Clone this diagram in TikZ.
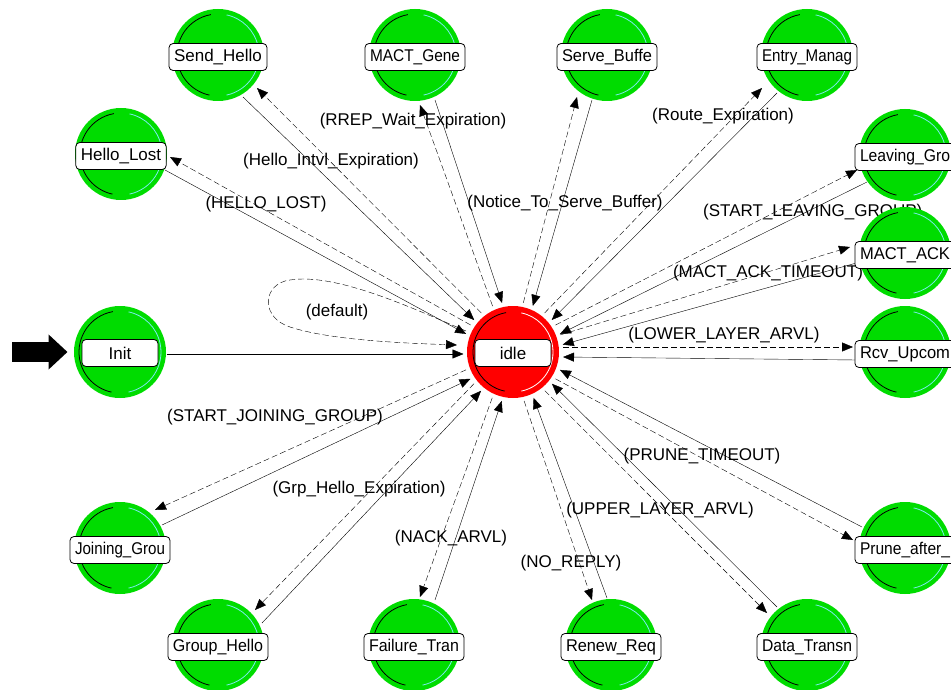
\documentclass[tikz,border=0pt]{standalone}
\usepackage{fontspec}
\usepackage{graphicx}
\setmainfont{Liberation Sans}
\usetikzlibrary{arrows.meta,calc}

\definecolor{stategreen}{RGB}{0,220,0}
\definecolor{statered}{RGB}{255,0,0}
\definecolor{rimcyan}{RGB}{120,235,235}

\newcommand\dgfont{\fontsize{17pt}{19pt}\selectfont}
% squeeze long state names so the name box never grows past its width
\newsavebox\namebuf
\newcommand\fitname[1]{\sbox\namebuf{#1}\ifdim\wd\namebuf>90pt\resizebox{90pt}{\height}{#1}\else\usebox\namebuf\fi}

\pgfdeclarelayer{back}
\pgfsetlayers{back,main}

% a dashed (conditional) transition from idle out to a state and a solid one back
% #1 state, #2/#3 side of the dashed/solid line at idle, #4/#5 their ends at the state
\newcommand\tpair[5]{%
  \draw[cond] ($(idle)!50pt!(#1)!5pt!#2:(#1)$) -- ($(#1)+(#4)$);
  \draw[uncond] ($(#1)+(#5)$) -- ($(idle)!50pt!(#1)!5pt!#3:(#1)$);
}

\begin{document}
\begin{tikzpicture}[x=1pt,y=-1pt,line width=1pt,
  every node/.style={font=\dgfont},
  rims/.style 2 args={path picture={
      \draw[black,line width=0.8pt] ([shift={(100:#1)}]path picture bounding box.center)
        arc[start angle=100,end angle=258,radius=#1];
      \draw[#2,line width=0.8pt] ([shift={(282:#1)}]path picture bounding box.center)
        arc[start angle=282,end angle=438,radius=#1];}},
  stategreen/.style={circle,fill=stategreen,minimum size=92pt,inner sep=0pt,rims={41pt}{rimcyan}},
  statered/.style={circle,fill=statered,minimum size=92pt,inner sep=0pt,rims={40pt}{white}},
  namebox/.style={draw=black,fill=white,rounded corners=4pt,line width=0.8pt,
    minimum width=76pt,minimum height=27pt,inner xsep=5pt,inner ysep=0pt},
  tlabel/.style={inner sep=0pt},
  cond/.style={dash pattern=on 6pt off 3pt,-{Triangle[length=11pt,width=9pt]}},
  uncond/.style={-{Triangle[length=11pt,width=9pt]}},
  feed/.style={line width=20pt,-{Triangle[length=19pt,width=34pt]}}]

\useasboundingbox (0,0) rectangle (951,690);
\clip (0,0) rectangle (951,690);

% states
\node[statered]   (idle) at (513,352) {};
\node[stategreen] (init) at (120,352) {};
\node[stategreen] (hl) at (121,154) {};
\node[stategreen] (sh) at (218,55) {};
\node[stategreen] (mg) at (415,55) {};
\node[stategreen] (sb) at (607,55) {};
\node[stategreen] (em) at (807,55) {};
\node[stategreen] (lg) at (905,155) {};
\node[stategreen] (ma) at (905,253) {};
\node[stategreen] (rc) at (905,352) {};
\node[stategreen] (pr) at (905,548) {};
\node[stategreen] (dt) at (807,645) {};
\node[stategreen] (rr) at (611,645) {};
\node[stategreen] (ft) at (414,645) {};
\node[stategreen] (gh) at (218,645) {};
\node[stategreen] (jg) at (120,548) {};

% state names
\node[namebox] (idle-name) at ($(idle)+(0,1)$) {idle};
\node[namebox] (init-name) at ($(init)+(0,1)$) {Init};
\node[namebox] (hl-name) at ($(hl)+(0,2)$) {\fitname{Hello\_Lost}};
\node[namebox] (sh-name) at ($(sh)+(0,2)$) {\fitname{Send\_Hello}};
\node[namebox] (mg-name) at ($(mg)+(0,2)$) {\fitname{MACT\_Gene}};
\node[namebox] (sb-name) at ($(sb)+(0,2)$) {\fitname{Serve\_Buffe}};
\node[namebox] (em-name) at ($(em)+(0,2)$) {\fitname{Entry\_Manag}};
\node[namebox] (lg-name) at ($(lg)+(0,2)$) {\fitname{Leaving\_Gro}};
\node[namebox] (ma-name) at ($(ma)+(0,2)$) {\fitname{MACT\_ACK}};
\node[namebox] (rc-name) at ($(rc)+(0,2)$) {\fitname{Rcv\_Upcom}};
\node[namebox] (pr-name) at ($(pr)+(0,2)$) {\fitname{Prune\_after\_}};
\node[namebox] (dt-name) at ($(dt)+(0,2)$) {\fitname{Data\_Transn}};
\node[namebox] (rr-name) at ($(rr)+(0,2)$) {\fitname{Renew\_Req}};
\node[namebox] (ft-name) at ($(ft)+(0,2)$) {\fitname{Failure\_Tran}};
\node[namebox] (gh-name) at ($(gh)+(0,2)$) {\fitname{Group\_Hello}};
\node[namebox] (jg-name) at ($(jg)+(0,2)$) {\fitname{Joining\_Grou}};

\begin{pgfonlayer}{back}
  \fill[white] (0,0) rectangle (951,690);

  % initial-state marker and the start transition
  \coordinate (feedstart) at (12,352);
  \draw[feed] (feedstart) -- ($(init.west)+(-6,0)$);
  \draw[uncond] ($(init.east)+(0,2)$) -- ($(idle.west)+(-3,2)$);

  % default self transition of idle
  \draw[cond] ($(idle)+(-47,-21)$) .. controls (410,307) and (330,270) .. (285,281)
     .. controls (262,288) and (262,318) .. (290,327)
     .. controls (330,340) and (400,343) .. ($(idle)+(-56,-7)$);

  % transitions between idle and the other states
  \tpair{hl}{-90}{90}{49,3}{44,16}
  \tpair{sh}{-90}{90}{39,33}{25,42}
  \tpair{mg}{90}{-90}{5,50}{20,45}
  \tpair{sb}{90}{-90}{-30,42}{-15,45}
  \tpair{em}{90}{-90}{-45,33}{-30,38}
  \tpair{lg}{90}{-90}{-48,15}{-38,27}
  \tpair{ma}{90}{-90}{-55,-6}{-45,9}
  \tpair{rc}{90}{-90}{-52,-5}{-48,8}
  \tpair{pr}{-90}{90}{-52,-8}{-43,-21}
  \tpair{dt}{-90}{90}{-40,-32}{-30,-38}
  \tpair{rr}{-90}{90}{-19,-45}{-4,-47}
  \tpair{ft}{-90}{90}{6,-48}{21,-45}
  \tpair{gh}{-90}{90}{37,-35}{44,-22}
  \tpair{jg}{-90}{90}{35,-38}{42,-23}

  % transition conditions
  \node[tlabel] (c-default) at (337,312) {(default)};
  \node[tlabel] (c-hl) at (266,204) {(HELLO\_LOST)};
  \node[tlabel] (c-sh) at (331,161) {(Hello\_Intvl\_Expiration)};
  \node[tlabel] (c-mg) at (413,121) {(RREP\_Wait\_Expiration)};
  \node[tlabel] (c-sb) at (565,203) {(Notice\_To\_Serve\_Buffer)};
  \node[tlabel] (c-em) at (723,116) {(Route\_Expiration)};
  \node[tlabel,anchor=west] (c-lg) at (703,212) {(START\_LEAVING\_GROUP)};
  \node[tlabel] (c-ma) at (768,273) {(MACT\_ACK\_TIMEOUT)};
  \node[tlabel] (c-rc) at (724,335) {(LOWER\_LAYER\_ARVL)};
  \node[tlabel] (c-pr) at (702,456) {(PRUNE\_TIMEOUT)};
  \node[tlabel] (c-dt) at (660,510) {(UPPER\_LAYER\_ARVL)};
  \node[tlabel] (c-rr) at (571,563) {(NO\_REPLY)};
  \node[tlabel] (c-ft) at (451,538) {(NACK\_ARVL)};
  \node[tlabel] (c-gh) at (359,489) {(Grp\_Hello\_Expiration)};
  \node[tlabel] (c-jg) at (275,417) {(START\_JOINING\_GROUP)};
\end{pgfonlayer}
\end{tikzpicture}
\end{document}
